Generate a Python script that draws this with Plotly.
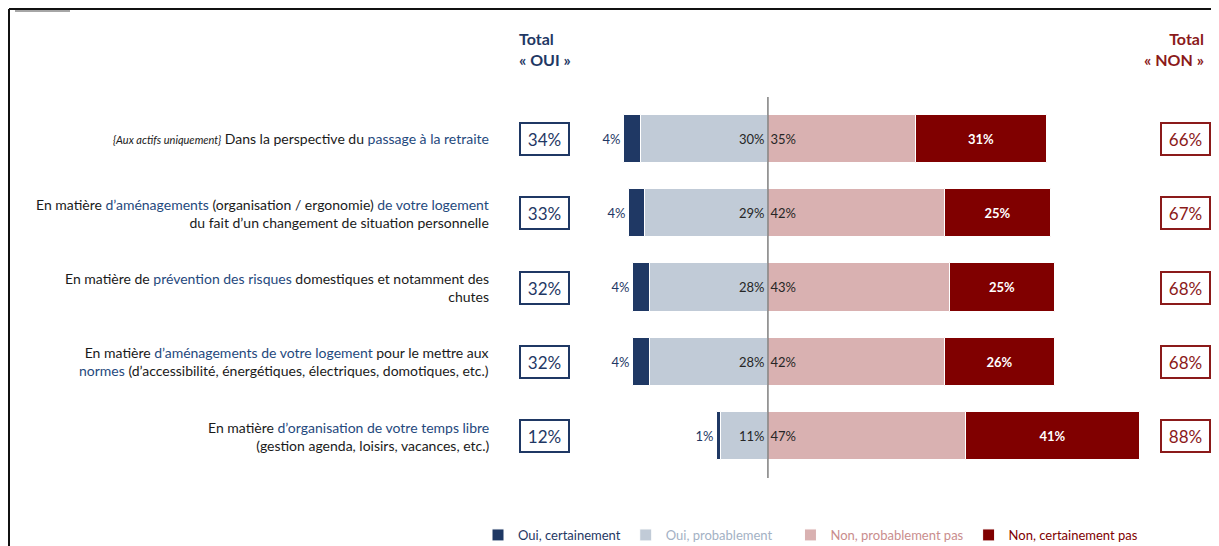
import plotly.graph_objects as go

# ---------------- data ----------------
labels = [
    "<span style='font-size:11px'><i>{Aux actifs uniquement}</i></span> Dans la perspective du <span style='color:#1F497D'>passage à la retraite</span>",
    "En matière <span style='color:#1F497D'>d’aménagements</span> (organisation / ergonomie) <span style='color:#1F497D'>de votre logement</span><br>du fait d’un changement de situation personnelle",
    "En matière de <span style='color:#1F497D'>prévention des risques</span> domestiques et notamment des<br>chutes",
    "En matière <span style='color:#1F497D'>d’aménagements de votre logement</span> pour le mettre aux<br><span style='color:#1F497D'>normes</span> (d’accessibilité, énergétiques, électriques, domotiques, etc.)",
    "En matière <span style='color:#1F497D'>d’organisation de votre temps libre</span><br>(gestion agenda, loisirs, vacances, etc.)",
]
oui_cert = [4, 4, 4, 4, 1]
oui_prob = [30, 29, 28, 28, 11]
non_prob = [35, 42, 43, 42, 47]
non_cert = [31, 25, 25, 26, 41]
total_oui = [34, 33, 32, 32, 12]
total_non = [66, 67, 68, 68, 88]
series_names = ["Oui, certainement", "Oui, probablement", "Non, probablement pas", "Non, certainement pas"]

# ---------------- styles ----------------
NAVY = "#1F3864"
GREYBLUE = "#C1CBD7"
PINK = "#D9B1B1"
DARKRED = "#800000"
BOXRED = "#8B1A1A"
FONT = "Lato, Open Sans, sans-serif"

OFF = 8  # default page body margin
W, H = 1219 - OFF, 546 - OFF
L = 599 - OFF
R = W - (1148 - OFF)
T = 100 - OFF
B = H - (475 - OFF)
pw, ph = W - L - R, H - T - B


def px2x(px):
    return (px - OFF - L) / pw


def py2y(py):
    return (H - B - (py - OFF)) / ph


rows = list(range(len(labels)))
bw = 0.65

fig = go.Figure()
fig.add_trace(go.Bar(
    y=rows, x=[-v for v in oui_cert], base=[-v for v in oui_prob], orientation="h",
    width=bw, marker=dict(color=NAVY, line=dict(color="white", width=1)),
    text=[f"{v}%" for v in oui_cert], textposition="outside",
    textfont=dict(color=NAVY, size=13, family=FONT), cliponaxis=False,
    name=f"<span style='color:{NAVY}'>{series_names[0]}</span>", hoverinfo="skip"))
fig.add_trace(go.Bar(
    y=rows, x=[-v for v in oui_prob], base=[0] * 5, orientation="h",
    width=bw, marker=dict(color=GREYBLUE, line=dict(color="white", width=1)),
    text=[f"{v}%" for v in oui_prob], textposition="inside", insidetextanchor="start",
    textfont=dict(color="#262626", size=13, family=FONT),
    name=f"<span style='color:#A3B1C4'>{series_names[1]}</span>" + "&nbsp;" * 4, hoverinfo="skip"))
fig.add_trace(go.Bar(
    y=rows, x=non_prob, base=[0] * 5, orientation="h",
    width=bw, marker=dict(color=PINK, line=dict(color="white", width=1)),
    text=[f"{v}%" for v in non_prob], textposition="inside", insidetextanchor="start",
    textfont=dict(color="#262626", size=13, family=FONT),
    name=f"<span style='color:#C98D8D'>{series_names[2]}</span>", hoverinfo="skip"))
fig.add_trace(go.Bar(
    y=rows, x=non_cert, base=non_prob, orientation="h",
    width=bw, marker=dict(color=DARKRED, line=dict(color="white", width=1)),
    text=[f"<b>{v}%</b>" for v in non_cert], textposition="inside", insidetextanchor="middle",
    textfont=dict(color="white", size=13, family=FONT),
    name=f"<span style='color:{DARKRED}'>{series_names[3]}</span>", hoverinfo="skip"))

annotations = []
for i in rows:
    annotations.append(dict(
        x=px2x(491), xref="paper", y=i, yref="y", text=labels[i], showarrow=False,
        xanchor="right", yanchor="middle", align="right",
        font=dict(size=14, color="#1a1a1a", family=FONT)))
    annotations.append(dict(
        x=px2x(544), xref="paper", y=i, yref="y", text=f"{total_oui[i]}%", showarrow=False,
        xanchor="center", yanchor="middle", width=47, height=30,
        bordercolor=NAVY, borderwidth=2, borderpad=0, bgcolor="white",
        font=dict(size=17, color=NAVY, family=FONT)))
    annotations.append(dict(
        x=px2x(1185), xref="paper", y=i, yref="y", text=f"{total_non[i]}%", showarrow=False,
        xanchor="center", yanchor="middle", width=47, height=30,
        bordercolor=BOXRED, borderwidth=2, borderpad=0, bgcolor="white",
        font=dict(size=17, color=BOXRED, family=FONT)))

annotations.append(dict(
    x=px2x(517), xref="paper", y=py2y(49), yref="paper", text="<b>Total<br>«&nbsp;OUI&nbsp;»</b>",
    showarrow=False, xanchor="left", yanchor="middle", align="left",
    font=dict(size=16, color=NAVY, family=FONT)))
annotations.append(dict(
    x=px2x(1206), xref="paper", y=py2y(49), yref="paper", text="<b>Total<br>«&nbsp;NON&nbsp;»</b>",
    showarrow=False, xanchor="right", yanchor="middle", align="right",
    font=dict(size=16, color=BOXRED, family=FONT)))

shapes = [
    # centre line
    dict(type="line", xref="x", yref="paper", x0=0, x1=0, y0=py2y(478), y1=py2y(97),
         line=dict(color="#7F7F7F", width=1.5)),
    # frame
    dict(type="line", xref="paper", yref="paper", x0=px2x(9), x1=px2x(1219), y0=py2y(9), y1=py2y(9),
         line=dict(color="#111111", width=2)),
    dict(type="line", xref="paper", yref="paper", x0=px2x(9), x1=px2x(9), y0=py2y(9), y1=py2y(546),
         line=dict(color="#111111", width=2)),
    dict(type="line", xref="paper", yref="paper", x0=px2x(15), x1=px2x(70), y0=py2y(11), y1=py2y(11),
         line=dict(color="#888888", width=1.5)),
]

fig.update_layout(
    width=W, height=H, margin=dict(l=L, r=R, t=T, b=B, autoexpand=False),
    paper_bgcolor="white", plot_bgcolor="white",
    barmode="overlay", bargap=0,
    showlegend=True,
    legend=dict(orientation="h", xref="paper", yref="paper",
                x=px2x(478), xanchor="left", y=py2y(535), yanchor="middle",
                font=dict(size=13, family=FONT), itemwidth=30, tracegroupgap=0,
                itemclick=False, itemdoubleclick=False),
    xaxis=dict(range=[-40, 90], visible=False, fixedrange=True),
    yaxis=dict(range=[4.525, -0.525], visible=False, fixedrange=True),
    annotations=annotations, shapes=shapes,
    font=dict(family=FONT),
)

fig.write_html("out.html")
